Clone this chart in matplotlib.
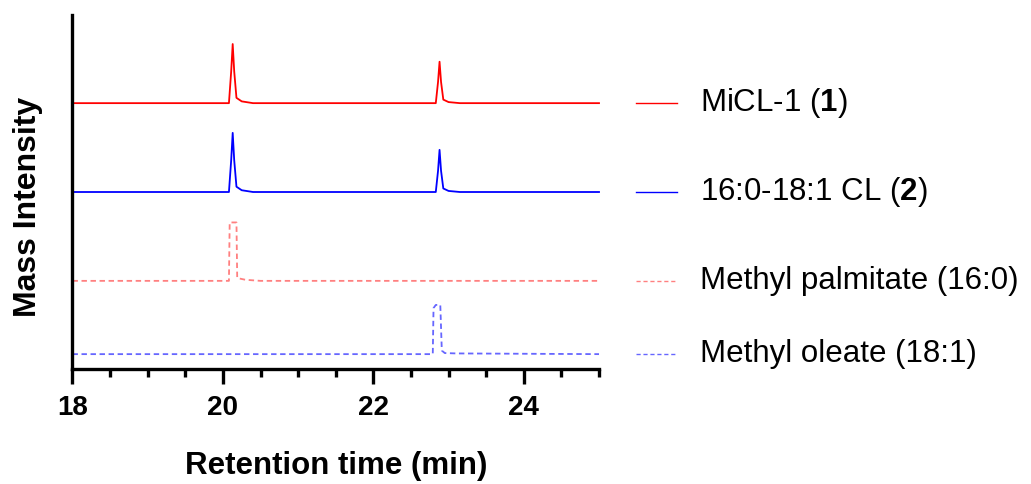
import matplotlib
matplotlib.use('Agg')
import matplotlib.pyplot as plt
import matplotlib.transforms as mtransforms

plt.rcParams['font.family'] = ['Liberation Sans', 'DejaVu Sans']
plt.rcParams['mathtext.fontset'] = 'custom'
plt.rcParams['mathtext.rm'] = 'Liberation Sans'
plt.rcParams['mathtext.bf'] = 'Liberation Sans:bold'

# retention time (min) and relative intensity
micl_t = [18, 20.08, 20.11, 20.13, 20.15, 20.18, 20.25, 20.4, 22.83, 22.86, 22.88, 22.9, 22.93, 23.0, 23.15, 25]
micl_i = [0, 0, 0.9, 1.67, 0.9, 0.15, 0.05, 0, 0, 0.6, 1.17, 0.6, 0.1, 0.03, 0, 0]

cl_t = [18, 20.08, 20.11, 20.13, 20.15, 20.18, 20.25, 20.4, 22.83, 22.86, 22.88, 22.9, 22.93, 23.0, 23.15, 25]
cl_i = [0, 0, 0.9, 1.67, 0.9, 0.15, 0.05, 0, 0, 0.6, 1.19, 0.6, 0.1, 0.03, 0, 0]

palm_t = [18, 20.08, 20.09, 20.18, 20.19, 20.3, 20.5, 25]
palm_i = [0, 0, 1.65, 1.65, 0.08, 0.03, 0, 0]

ole_t = [18, 22.79, 22.80, 22.83, 22.89, 22.91, 22.95, 23.1, 25]
ole_i = [0, 0, 1.3, 1.39, 1.39, 0.1, 0.03, 0.02, 0]

labels = ['MiCL-1 ($\\mathbf{1}$)', '16:0-18:1 CL ($\\mathbf{2}$)',
          'Methyl palmitate (16:0)', 'Methyl oleate (18:1)']
colors = ['#ff0000', '#0000ff', '#ff8080', '#6666ff']
dashed = [False, False, True, True]
offsets = [7.51, 5.0, 2.49, 0.42]

fig = plt.figure(figsize=(10.31, 4.84), dpi=100)
ax = fig.add_axes([0.0703, 0.2376, 0.5107, 0.7314])

series = [(micl_t, micl_i), (cl_t, cl_i), (palm_t, palm_i), (ole_t, ole_i)]
trans = mtransforms.blended_transform_factory(ax.transAxes, ax.transData)
for (t, inten), lab, c, d, off in zip(series, labels, colors, dashed, offsets):
    y = [v + off for v in inten]
    if d:
        ax.plot(t, y, color=c, lw=1.3, dashes=(3, 2), clip_on=False)
        ax.plot([1.07, 1.148], [off, off], color=c, lw=1.0, dashes=(3, 2),
                transform=trans, clip_on=False)
    else:
        ax.plot(t, y, color=c, lw=1.3, clip_on=False)
        ax.plot([1.07, 1.148], [off, off], color=c, lw=1.0,
                transform=trans, clip_on=False)
    ax.text(1.192, off, lab, transform=trans, fontsize=22.5, va='center', ha='left')

ax.set_xlim(18, 25)
ax.set_ylim(0, 10)
ax.set_xticks([18, 20, 22, 24])
ax.set_xticks([18.5, 19, 19.5, 20.5, 21, 21.5, 22.5, 23, 23.5, 24.5, 25], minor=True)
ax.set_yticks([])
for s in ['top', 'right']:
    ax.spines[s].set_visible(False)
for s in ['left', 'bottom']:
    ax.spines[s].set_linewidth(2.4)
ax.tick_params(axis='x', which='major', length=11, width=2.4, pad=8, labelsize=20)
ax.tick_params(axis='x', which='minor', length=6, width=2.4)
for lbl in ax.get_xticklabels():
    lbl.set_fontweight('bold')

fig.text(336 / 1031, 1 - 466 / 484, 'Retention time (min)', fontsize=22.5,
         fontweight='bold', ha='center', va='center')
fig.text(28 / 1031, 1 - 207 / 484, 'Mass Intensity', fontsize=23,
         fontweight='bold', ha='center', va='center', rotation=90)

plt.savefig('out.png', dpi=100)
